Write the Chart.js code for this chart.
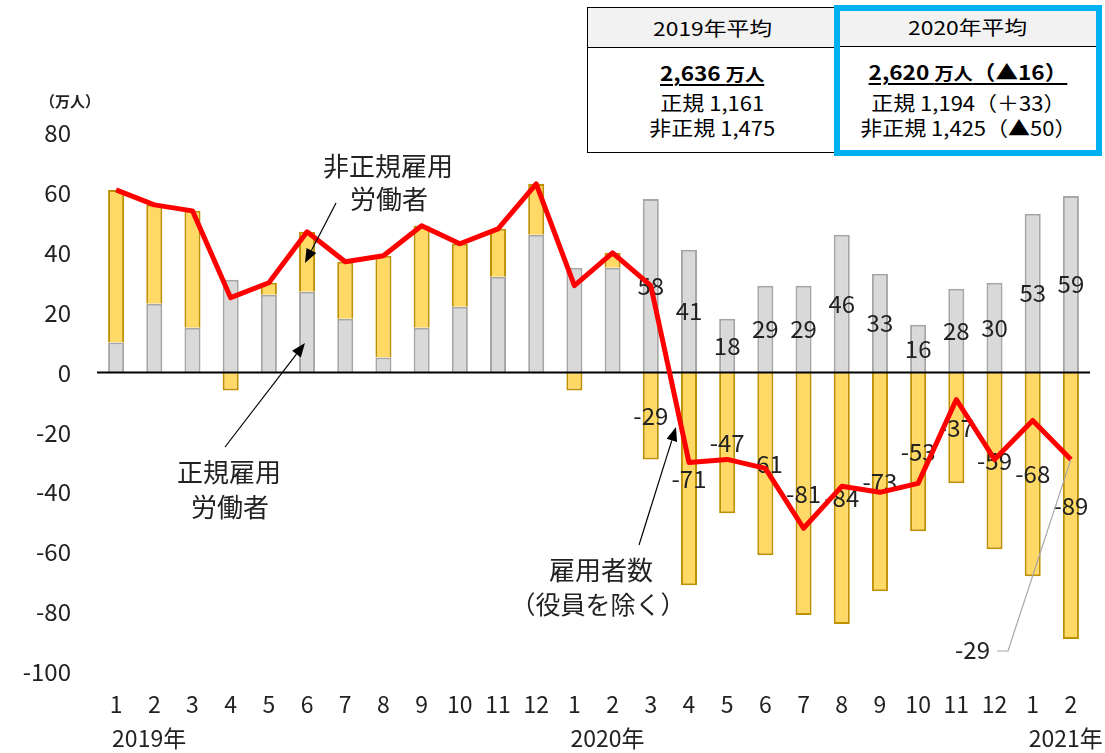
<!DOCTYPE html>
<html>
<head>
<meta charset="utf-8">
<script src="https://cdn.jsdelivr.net/npm/chart.js@4.4.1/dist/chart.umd.min.js"></script>
<style>
  body { margin: 0; background: #fff; font-family: "Noto Sans CJK JP", sans-serif; }
  #wrap { position: relative; width: 1105px; height: 753px; }
  #chart { position: absolute; left: 0; top: 0; }
  .box { position: absolute; box-sizing: border-box; background: #fff; }
  .head { position: absolute; left: 0; right: 0; top: 0; background: #f2f2f2; border-bottom: 1px solid #000; }
  .row { position: absolute; left: 0; right: 0; height: 30px; line-height: 30px; text-align: center; white-space: nowrap; color: #000; }
  .row span { display: inline-block; }
  .h span { font-size: 19px; transform: scaleX(1.2); }
  .b span { font-size: 20px; font-weight: bold; text-decoration: underline; text-underline-offset: 3px; transform: scaleX(1.13); }
  .b small { font-size: 17px; }
  .n span { font-size: 20px; transform: scaleX(1.1); }
</style>
</head>
<body>
<div id="wrap">
  <canvas id="chart" width="1105" height="753"></canvas>

  <div class="box" style="left:587px;top:7px;width:251px;height:146px;border:1px solid #000;">
    <div class="head" style="height:39px;"></div>
    <div class="row h" style="top:5px;"><span>2019年平均</span></div>
    <div class="row b" style="top:50px;"><span>2,636 <small>万人</small></span></div>
    <div class="row n" style="top:80px;"><span>正規 1,161</span></div>
    <div class="row n" style="top:105px;"><span>非正規 1,475</span></div>
  </div>

  <div class="box" style="left:834px;top:5px;width:268px;height:151px;border:6px solid #00b0f0;">
    <div class="head" style="height:35px;"></div>
    <div class="row h" style="top:1px;"><span>2020年平均</span></div>
    <div class="row b" style="top:46px;"><span>2,620 <small>万人</small>（▲16）</span></div>
    <div class="row n" style="top:77px;"><span>正規 1,194（＋33）</span></div>
    <div class="row n" style="top:102px;"><span>非正規 1,425（▲50）</span></div>
  </div>
</div>

<script>
// 前年同月差（万人）
const months = ['1','2','3','4','5','6','7','8','9','10','11','12',
                '1','2','3','4','5','6','7','8','9','10','11','12',
                '1','2'];
const regular = [10, 23, 15, 31, 26, 27, 18, 5, 15, 22, 32, 46,
                 35, 35, 58, 41, 18, 29, 29, 46, 33, 16, 28, 30,
                 53, 59];
const nonRegular = [51, 33, 39, -6, 4, 20, 19, 34, 34, 21, 16, 17,
                    -6, 5, -29, -71, -47, -61, -81, -84, -73, -53, -37, -59,
                    -68, -89];
const total = [61, 56, 54, 25, 30, 47, 37, 39, 49, 43, 48, 63,
               29, 40, 29, -30, -29, -32, -52, -38, -40, -37, -9, -29,
               -16, -29];
const yearLabels = ['2019年', '2020年', '2021年'];
const yearStart = [0, 12, 24];
const labelFrom = 14; // values shown from 2020年3月

const FONT = '"Noto Sans CJK JP", sans-serif';

function arrow(ctx, x1, y1, x2, y2) {
  const a = Math.atan2(y2 - y1, x2 - x1);
  const L = 14, W = 5.5;
  const bx = x2 - L * Math.cos(a), by = y2 - L * Math.sin(a);
  ctx.save();
  ctx.strokeStyle = '#000';
  ctx.fillStyle = '#000';
  ctx.lineWidth = 1.2;
  ctx.beginPath();
  ctx.moveTo(x1, y1);
  ctx.lineTo(bx, by);
  ctx.stroke();
  ctx.beginPath();
  ctx.moveTo(x2, y2);
  ctx.lineTo(bx + W * Math.sin(a), by - W * Math.cos(a));
  ctx.lineTo(bx - W * Math.sin(a), by + W * Math.cos(a));
  ctx.closePath();
  ctx.fill();
  ctx.restore();
}

function text(ctx, str, x, y, size, align) {
  ctx.save();
  ctx.font = size + 'px ' + FONT;
  ctx.fillStyle = '#222';
  ctx.textAlign = align || 'center';
  ctx.textBaseline = 'middle';
  ctx.fillText(str, x, y);
  ctx.restore();
}

const decor = {
  id: 'decor',
  afterDatasetDraw(chart, args) {
    if (args.meta.type !== 'bar') return;
    const ctx = chart.ctx;
    const src = args.index === 0 ? regular : nonRegular;
    args.meta.data.forEach((bar, i) => {
      if (i < labelFrom) return;
      const p = bar.getProps(['x', 'y', 'base'], true);
      text(ctx, String(src[i]), p.x, (p.y + p.base) / 2, 24);
    });
    if (args.index === 0) {
      const y0 = chart.scales.y.getPixelForValue(0);
      ctx.save();
      ctx.strokeStyle = '#000';
      ctx.lineWidth = 2;
      ctx.beginPath();
      ctx.moveTo(chart.chartArea.left, y0);
      ctx.lineTo(chart.chartArea.right, y0);
      ctx.stroke();
      ctx.restore();
    }
  },
  afterDraw(chart) {
    const ctx = chart.ctx;
    const xs = chart.scales.x;
    const area = chart.chartArea;

    yearLabels.forEach((lab, k) => {
      text(ctx, lab, xs.getPixelForValue(yearStart[k]) - 4, area.bottom + 66, 23, 'left');
    });

    ctx.save();
    ctx.font = 'bold 15px ' + FONT;
    ctx.fillStyle = '#222';
    ctx.textAlign = 'center';
    ctx.textBaseline = 'middle';
    ctx.fillText('（万人）', 70, 101);
    ctx.restore();

    text(ctx, '非正規雇用', 388, 166, 26);
    text(ctx, '労働者', 389, 199, 26);
    arrow(ctx, 336, 203, 305, 263);

    text(ctx, '正規雇用', 229, 472, 26);
    text(ctx, '労働者', 230, 507, 26);
    arrow(ctx, 225, 447, 305, 343);

    text(ctx, '雇用者数', 601, 570, 26);
    text(ctx, '（役員を除く）', 598, 604, 25);
    arrow(ctx, 639, 545, 676, 427);

    // leader for last total value
    const last = total.length - 1;
    const pt = chart.getDatasetMeta(2).data[last];
    ctx.save();
    ctx.strokeStyle = '#a6a6a6';
    ctx.lineWidth = 1.2;
    ctx.beginPath();
    ctx.moveTo(pt.x, pt.y);
    ctx.lineTo(1008, 651);
    ctx.lineTo(997, 651);
    ctx.stroke();
    ctx.restore();
    text(ctx, String(total[last]), 990, 650, 24, 'right');
  }
};

new Chart(document.getElementById('chart'), {
  data: {
    labels: months,
    datasets: [
      {
        type: 'bar',
        label: '正規雇用労働者',
        data: regular,
        backgroundColor: '#d9d9d9',
        borderColor: '#a6a6a6',
        borderWidth: 2,
        barPercentage: 0.42,
        categoryPercentage: 1,
        stack: 'emp',
        order: 1
      },
      {
        type: 'bar',
        label: '非正規雇用労働者',
        data: nonRegular,
        backgroundColor: '#ffd966',
        borderColor: '#bf9000',
        borderWidth: 2,
        barPercentage: 0.42,
        categoryPercentage: 1,
        stack: 'emp',
        order: 1
      },
      {
        type: 'line',
        label: '雇用者数（役員を除く）',
        data: total,
        borderColor: '#ff0000',
        borderWidth: 5,
        pointRadius: 0,
        tension: 0,
        borderJoinStyle: 'round',
        stack: 'total',
        order: 0
      }
    ]
  },
  options: {
    responsive: false,
    animation: false,
    layout: { padding: { top: 133, right: 15, left: 0, bottom: 0 } },
    plugins: {
      legend: { display: false },
      tooltip: { enabled: false }
    },
    scales: {
      x: {
        stacked: true,
        grid: { display: false, drawTicks: false },
        border: { display: false },
        ticks: { font: { size: 23, family: FONT }, color: '#222', padding: 18, maxRotation: 0, autoSkip: false },
        afterFit(s) { s.height = 81; }
      },
      y: {
        stacked: true,
        min: -100,
        max: 80,
        grid: { display: false, drawTicks: false },
        border: { display: false },
        ticks: { stepSize: 20, font: { size: 24, family: FONT }, color: '#222', padding: 26 },
        afterFit(s) { s.width = 97; }
      }
    }
  },
  plugins: [decor]
});
</script>
</body>
</html>
